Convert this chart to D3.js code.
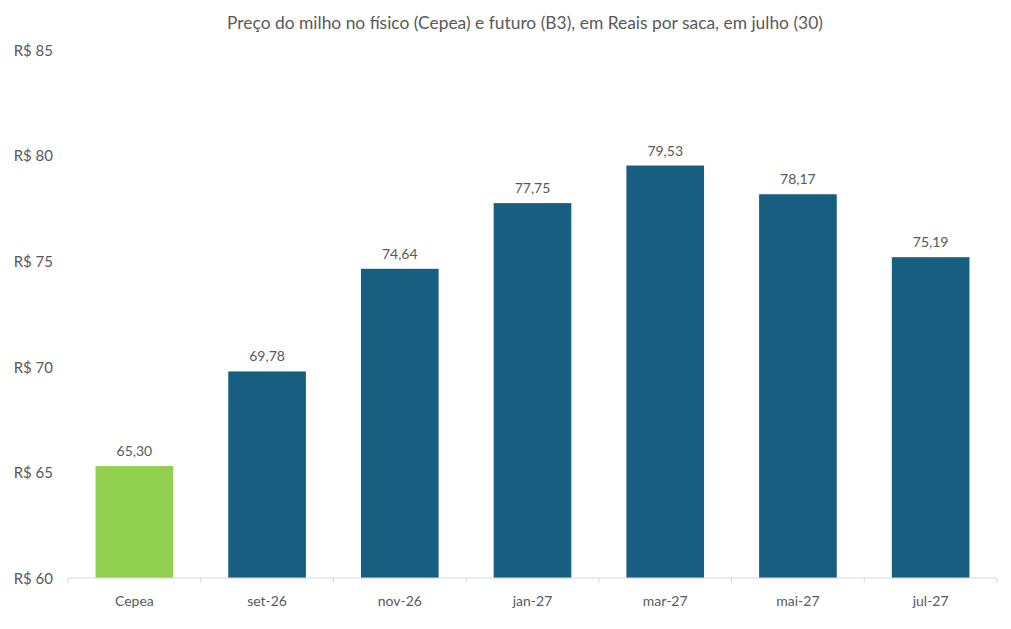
<!DOCTYPE html>
<html>
<head>
<meta charset="utf-8">
<script src="https://cdn.jsdelivr.net/npm/d3@7"></script>
<style>
  body { margin: 0; background: #fff; }
  text { font-family: Lato, "Open Sans", sans-serif; fill: #595959; }
</style>
</head>
<body>
<div id="chart"></div>
<script>
// data
var categories = ['Cepea', 'set-26', 'nov-26', 'jan-27', 'mar-27', 'mai-27', 'jul-27'];
var prices = [65.30, 69.78, 74.64, 77.75, 79.53, 78.17, 75.19];
var yTicks = [60, 65, 70, 75, 80, 85];
var title = 'Preço do milho no físico (Cepea) e futuro (B3), em Reais por saca, em julho (30)';

var W = 1011, H = 629;
var margin = {top: 50, bottom: 51, left: 68, right: 14};
var w = W - margin.left - margin.right;
var h = H - margin.top - margin.bottom;

var svg = d3.select('#chart')
    .append('svg')
    .attr('width', W)
    .attr('height', H);

svg.append('text')
    .attr('x', 525)
    .attr('y', 29)
    .attr('text-anchor', 'middle')
    .style('font-size', '17.4px')
    .text(title);

var g = svg.append('g')
    .attr('transform', 'translate(' + margin.left + ',' + margin.top + ')');

var x = d3.scaleBand()
    .domain(categories)
    .range([0, w])
    .paddingInner(0.415)
    .paddingOuter(0.2075);

var y = d3.scaleLinear()
    .domain([60, 85])
    .range([h, 0]);

// y labels (no axis line)
var yAx = g.append('g')
    .call(d3.axisLeft(y).tickValues(yTicks).tickSize(0).tickPadding(15)
        .tickFormat(function(d) { return 'R$ ' + d; }));
yAx.select('.domain').remove();
yAx.selectAll('text').style('font-size', '15px').attr('dy', '0.35em');

// bars
var data = categories.map(function(c, i) { return {cat: c, val: prices[i]}; });

g.selectAll('.bar')
    .data(data)
    .enter()
    .append('rect')
    .attr('class', 'bar')
    .attr('x', function(d) { return x(d.cat); })
    .attr('width', x.bandwidth())
    .attr('y', function(d) { return y(d.val); })
    .attr('height', function(d) { return h - y(d.val); })
    .attr('fill', function(d, i) { return i === 0 ? '#92d050' : '#175e80'; });

g.selectAll('.lbl')
    .data(data)
    .enter()
    .append('text')
    .attr('class', 'lbl')
    .attr('x', function(d) { return x(d.cat) + x.bandwidth() / 2; })
    .attr('y', function(d) { return y(d.val) - 10; })
    .attr('text-anchor', 'middle')
    .style('font-size', '14px')
    .text(function(d) { return d.val.toFixed(2).replace('.', ','); });

// x axis with ticks at category boundaries
var xAx = g.append('g')
    .attr('transform', 'translate(0,' + h + ')');
xAx.append('line')
    .attr('x1', 0).attr('x2', w)
    .attr('stroke', '#d9d9d9');
var step = x.step();
xAx.selectAll('.tk')
    .data(d3.range(categories.length + 1))
    .enter()
    .append('line')
    .attr('x1', function(i) { return i * step; })
    .attr('x2', function(i) { return i * step; })
    .attr('y1', 0).attr('y2', 5)
    .attr('stroke', '#d9d9d9');
xAx.selectAll('.xl')
    .data(categories)
    .enter()
    .append('text')
    .attr('x', function(d) { return x(d) + x.bandwidth() / 2; })
    .attr('y', 28)
    .attr('text-anchor', 'middle')
    .style('font-size', '14px')
    .text(function(d) { return d; });
</script>
</body>
</html>
